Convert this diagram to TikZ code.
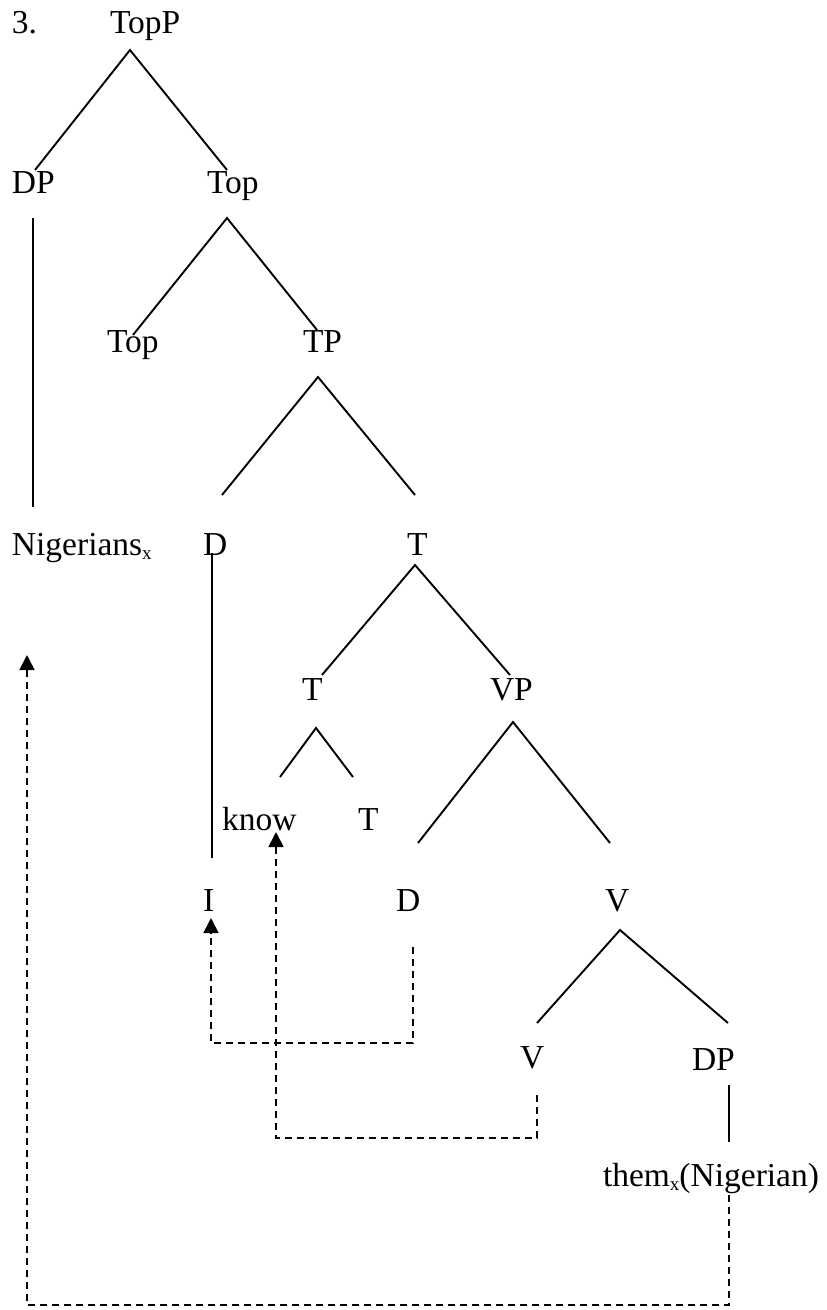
\documentclass[tikz,border=0pt]{standalone}
\usepackage{fontspec}
\setmainfont{Liberation Serif}
\usetikzlibrary{arrows.meta}
\newcommand{\subx}{\raisebox{-4pt}{\fontsize{19}{19}\selectfont x}}
\begin{document}
\begin{tikzpicture}[x=1pt,y=-1pt,
  lbl/.style={anchor=base west,inner sep=0pt,outer sep=0pt,font=\fontsize{33.5}{40}\selectfont},
  branch/.style={line width=1.9pt},
  move/.style={line width=1.7pt,dash pattern=on 7pt off 5pt,-{Triangle[width=15pt,length=15pt]}}]
\useasboundingbox (0,0) rectangle (827,1310);
% labels
\node[lbl] (num) at (12,33) {3.};
\node[lbl] (topp) at (110,33) {TopP};
\node[lbl] (dp1) at (12,193) {DP};
\node[lbl] (top1) at (207,193) {Top};
\node[lbl] (top2) at (107,352) {Top};
\node[lbl] (tp) at (303,352) {TP};
\node[lbl] (nig) at (12,555) {Nigerians\subx};
\node[lbl] (d1) at (203,555) {D};
\node[lbl] (t1) at (407,555) {T};
\node[lbl] (t2) at (302,700) {T};
\node[lbl] (vp) at (490,700) {VP};
\node[lbl] (know) at (222,830) {know};
\node[lbl] (t3) at (358,830) {T};
\node[lbl] (i) at (203,911) {I};
\node[lbl] (d2) at (396,911) {D};
\node[lbl] (v1) at (605,911) {V};
\node[lbl] (v2) at (520,1068) {V};
\node[lbl] (dp2) at (692,1070) {DP};
\node[lbl] (them) at (603,1186) {them\subx(Nigerian)};
% branch coordinates
\coordinate (aTopP) at (130,50);  \coordinate (lTopP) at (35,170);  \coordinate (rTopP) at (227,170);
\coordinate (aDP) at (33,218);    \coordinate (bDP) at (33,507);
\coordinate (aTop) at (227,218);  \coordinate (lTop) at (133,335);  \coordinate (rTop) at (317,330);
\coordinate (aTP) at (318,377);   \coordinate (lTP) at (222,495);   \coordinate (rTP) at (415,495);
\coordinate (aD) at (212,553);    \coordinate (bD) at (212,858);
\coordinate (aT) at (415,565);    \coordinate (lT) at (322,675);    \coordinate (rT) at (510,675);
\coordinate (aTs) at (316,728);   \coordinate (lTs) at (280,777);   \coordinate (rTs) at (353,777);
\coordinate (aVP) at (513,722);   \coordinate (lVP) at (418,843);   \coordinate (rVP) at (610,843);
\coordinate (aV) at (620,930);    \coordinate (lV) at (537,1023);   \coordinate (rV) at (728,1023);
\coordinate (aDPb) at (729,1085); \coordinate (bDPb) at (729,1142);
\draw[branch] (lTopP) -- (aTopP) -- (rTopP);
\draw[branch] (aDP) -- (bDP);
\draw[branch] (lTop) -- (aTop) -- (rTop);
\draw[branch] (lTP) -- (aTP) -- (rTP);
\draw[branch] (aD) -- (bD);
\draw[branch] (lT) -- (aT) -- (rT);
\draw[branch] (lTs) -- (aTs) -- (rTs);
\draw[branch] (lVP) -- (aVP) -- (rVP);
\draw[branch] (lV) -- (aV) -- (rV);
\draw[branch] (aDPb) -- (bDPb);
% movement coordinates
\coordinate (mD) at (413,947);   \coordinate (mI) at (211,918);
\coordinate (mV) at (537,1095);  \coordinate (mK) at (276,832);
\coordinate (mThem) at (729,1195); \coordinate (mNig) at (27,655);
\draw[move] (mD) |- (211,1043) -- (mI);
\draw[move] (mV) |- (276,1138) -- (mK);
\draw[move] (mThem) |- (27,1305) -- (mNig);
\end{tikzpicture}
\end{document}
